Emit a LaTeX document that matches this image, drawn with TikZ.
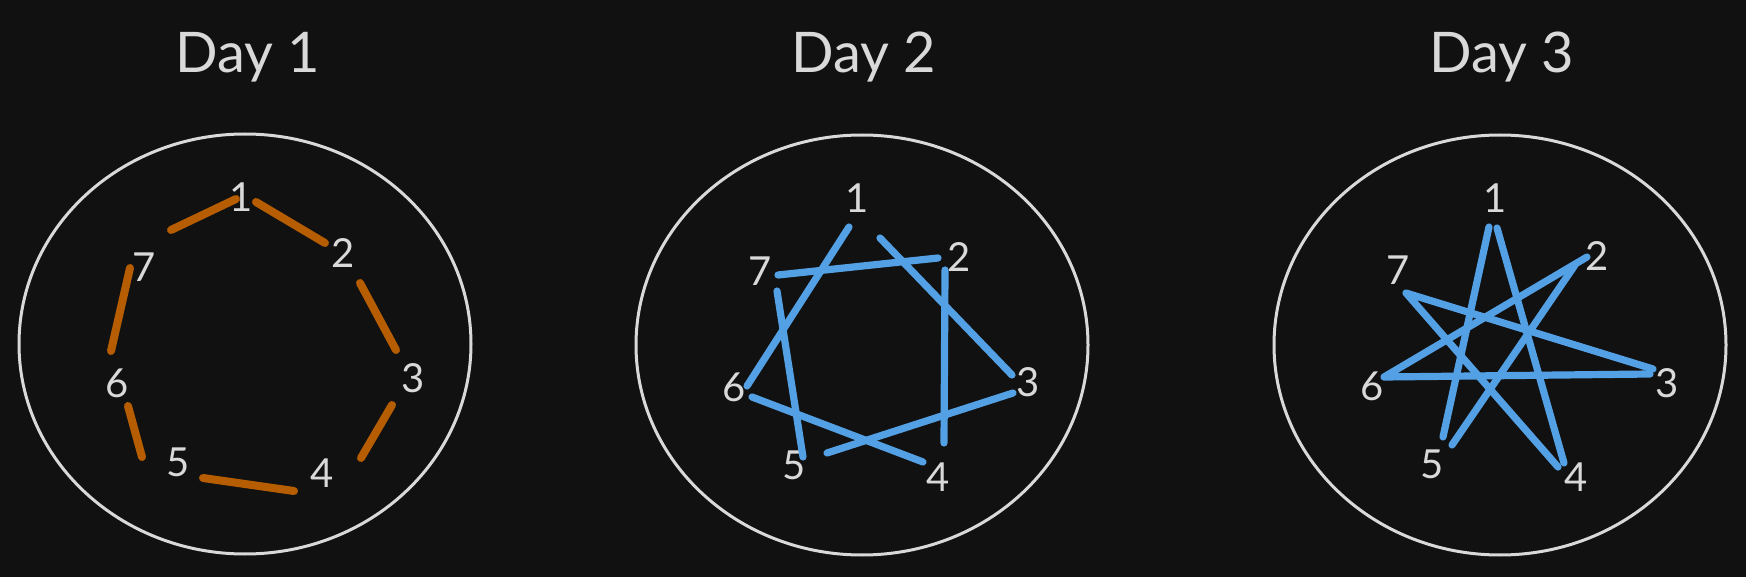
\documentclass[tikz,border=0pt]{standalone}
\usepackage{fontspec}
\setmainfont{Lato}
\definecolor{bg}{RGB}{17,17,17}
\definecolor{fg}{RGB}{217,217,217}
\definecolor{orng}{RGB}{181,93,0}
\definecolor{blu}{RGB}{83,161,228}
\tikzset{
  ring/.style={draw=fg,line width=1.5pt},
  lbl/.style={text=fg,font=\fontsize{20}{20}\selectfont,inner sep=0pt,anchor=center},
  ttl/.style={text=fg,font=\fontsize{28}{28}\selectfont,inner sep=0pt,anchor=base},
  oseg/.style={draw=orng,line width=4pt,line cap=round},
  bseg/.style={draw=blu,line width=3.6pt,line cap=round,line join=round},
}
\begin{document}
\begin{tikzpicture}[x=0.5pt,y=-0.5pt]
\fill[bg] (0,0) rectangle (1746,577);
\useasboundingbox (0,0) rectangle (1746,577);
% titles
\node[ttl] (t1) at (248,73) {Day 1};
\node[ttl] (t2) at (864,73) {Day 2};
\node[ttl] (t3) at (1502,73) {Day 3};
% rings
\draw[ring] (245,344) ellipse [x radius=226, y radius=210];
\draw[ring] (862,345) ellipse [x radius=226, y radius=210];
\draw[ring] (1500,345) ellipse [x radius=226, y radius=210];
% Day 1 labels
\node[lbl] (a1) at (241,197) {1};
\node[lbl] (a2) at (343,253) {2};
\node[lbl] (a3) at (413,378) {3};
\node[lbl] (a4) at (322,473) {4};
\node[lbl] (a5) at (178,462) {5};
\node[lbl] (a6) at (117,383) {6};
\node[lbl] (a7) at (144,267) {7};
% Day 1 segment ends
\coordinate (a71s) at (171,230); \coordinate (a71e) at (236,199);
\coordinate (a12s) at (256,202); \coordinate (a12e) at (325,243);
\coordinate (a23s) at (360,283); \coordinate (a23e) at (396,350);
\coordinate (a34s) at (392,405); \coordinate (a34e) at (361,458);
\coordinate (a45s) at (294,491); \coordinate (a45e) at (203,478);
\coordinate (a56s) at (142,457); \coordinate (a56e) at (128,406);
\coordinate (a67s) at (111,351); \coordinate (a67e) at (130,268);
\draw[oseg] (a71s) -- (a71e);
\draw[oseg] (a12s) -- (a12e);
\draw[oseg] (a23s) -- (a23e);
\draw[oseg] (a34s) -- (a34e);
\draw[oseg] (a45s) -- (a45e);
\draw[oseg] (a56s) -- (a56e);
\draw[oseg] (a67s) -- (a67e);
% Day 2 labels
\node[lbl] (b1) at (857,198) {1};
\node[lbl] (b2) at (959,257) {2};
\node[lbl] (b3) at (1028,382) {3};
\node[lbl] (b4) at (938,477) {4};
\node[lbl] (b5) at (794,465) {5};
\node[lbl] (b6) at (734,387) {6};
\node[lbl] (b7) at (760,271) {7};
% Day 2 segments
\coordinate (b16s) at (849,227); \coordinate (b16e) at (747,386);
\coordinate (b13s) at (880,238); \coordinate (b13e) at (1012,375);
\coordinate (b72s) at (778,275); \coordinate (b72e) at (938,258);
\coordinate (b24s) at (945,270); \coordinate (b24e) at (944,443);
\coordinate (b75s) at (777,291); \coordinate (b75e) at (803,457);
\coordinate (b64s) at (752,397); \coordinate (b64e) at (923,462);
\coordinate (b53s) at (827,453); \coordinate (b53e) at (1013,393);
\draw[bseg] (b16s) -- (b16e);
\draw[bseg] (b13s) -- (b13e);
\draw[bseg] (b72s) -- (b72e);
\draw[bseg] (b24s) -- (b24e);
\draw[bseg] (b75s) -- (b75e);
\draw[bseg] (b64s) -- (b64e);
\draw[bseg] (b53s) -- (b53e);
% Day 3 labels
\node[lbl] (c1) at (1495,198) {1};
\node[lbl] (c2) at (1597,256) {2};
\node[lbl] (c3) at (1667,383) {3};
\node[lbl] (c4) at (1576,477) {4};
\node[lbl] (c5) at (1432,464) {5};
\node[lbl] (c6) at (1372,386) {6};
\node[lbl] (c7) at (1398,270) {7};
% Day 3 segments
\coordinate (c15s) at (1489,227); \coordinate (c15e) at (1443,437);
\coordinate (c14s) at (1497,228); \coordinate (c14e) at (1564,463);
\coordinate (c47s) at (1558,467); \coordinate (c7v) at (1406,293);
\coordinate (c3v) at (1653,369); \coordinate (c36s) at (1650,374);
\coordinate (c6v) at (1384,377); \coordinate (c2v) at (1587,257);
\coordinate (c25s) at (1575,265); \coordinate (c25e) at (1452,445);
\draw[bseg] (c15s) -- (c15e);
\draw[bseg] (c14s) -- (c14e);
\draw[bseg] (c47s) -- (c7v) -- (c3v);
\draw[bseg] (c36s) -- (c6v) -- (c2v);
\draw[bseg] (c25s) -- (c25e);
\end{tikzpicture}
\end{document}
